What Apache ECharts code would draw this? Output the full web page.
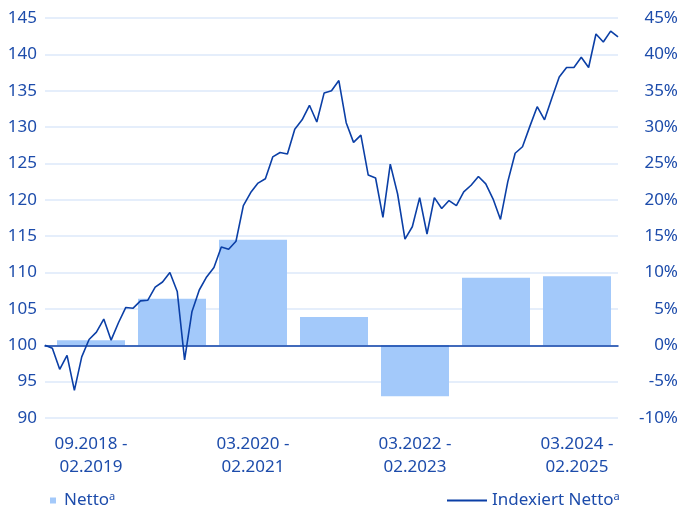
<!DOCTYPE html>
<html><head><meta charset="utf-8">
<script src="https://cdn.jsdelivr.net/npm/echarts@6/dist/echarts.min.js"></script>
<style>html,body{margin:0;padding:0;background:#fff}#c{width:681px;height:509px}</style>
</head><body><div id="c"></div>
<script>
const periods = ["09.2018 -\n02.2019","03.2019 -\n02.2020","03.2020 -\n02.2021","03.2021 -\n02.2022","03.2022 -\n02.2023","03.2023 -\n02.2024","03.2024 -\n02.2025"];
const nettoPct = [0.7, 6.4, 14.5, 3.9, -7.0, 9.3, 9.5];
const months = ["08.2018","09.2018","10.2018","11.2018","12.2018",
"01.2019","02.2019","03.2019","04.2019","05.2019","06.2019","07.2019","08.2019","09.2019","10.2019","11.2019","12.2019",
"01.2020","02.2020","03.2020","04.2020","05.2020","06.2020","07.2020","08.2020","09.2020","10.2020","11.2020","12.2020",
"01.2021","02.2021","03.2021","04.2021","05.2021","06.2021","07.2021","08.2021","09.2021","10.2021","11.2021","12.2021",
"01.2022","02.2022","03.2022","04.2022","05.2022","06.2022","07.2022","08.2022","09.2022","10.2022","11.2022","12.2022",
"01.2023","02.2023","03.2023","04.2023","05.2023","06.2023","07.2023","08.2023","09.2023","10.2023","11.2023","12.2023",
"01.2024","02.2024","03.2024","04.2024","05.2024","06.2024","07.2024","08.2024","09.2024","10.2024","11.2024","12.2024",
"01.2025","02.2025"];
const indexed = [100.0,99.6,96.7,98.6,93.8,98.4,100.8,101.8,103.6,100.7,103.1,105.2,105.1,106.1,106.2,108.0,108.7,110.0,107.4,98.0,
104.6,107.6,109.4,110.7,113.5,113.2,114.3,119.2,121.0,122.3,122.9,125.9,126.5,126.3,129.7,131.0,133.0,130.7,134.7,135.0,
136.4,130.6,127.9,128.9,123.4,123.0,117.6,124.9,120.8,114.6,116.3,120.3,115.3,120.3,118.8,119.9,119.2,121.1,122.0,123.2,
122.2,120.1,117.3,122.5,126.4,127.3,130.1,132.8,131.0,134.0,136.9,138.2,138.2,139.6,138.2,142.8,141.7,143.2,142.4];
const leftTicks = {min: 90, max: 145, interval: 5};
const rightTicks = {min: -10, max: 45, interval: 5};

const TXT = '#1d4cab', LINE = '#0b3fa6', BAR = '#a3c9fa', GRID = '#dde9fa';
const FONT = 'Noto Sans';
const chart = echarts.init(document.getElementById('c'), null, {renderer: 'canvas'});
chart.setOption({
  animation: false,
  textStyle: {fontFamily: FONT},
  grid: [
    {left: 45, right: 59, top: 18, bottom: 91},
    {left: 50.5, right: 63.5, top: 18, bottom: 91}
  ],
  legend: [
    {data: ['Netto\u1d43'], left: 45, top: 487, icon: 'rect', itemWidth: 6, itemHeight: 6,
     textStyle: {color: TXT, fontSize: 17, fontFamily: FONT, padding: [0, 0, 0, 3]}},
    {data: [{name: 'Indexiert Netto\u1d43', icon: 'rect'}], left: 442, top: 487, itemWidth: 40, itemHeight: 2,
     textStyle: {color: TXT, fontSize: 17, fontFamily: FONT}}
  ],
  xAxis: [
    {type: 'category', gridIndex: 0, data: months, boundaryGap: false,
     axisLine: {show: true, onZero: true, onZeroAxisIndex: 1, lineStyle: {color: LINE, width: 1.5}},
     axisTick: {show: false}, axisLabel: {show: false}, splitLine: {show: false}, z: 5},
    {type: 'category', gridIndex: 1, data: periods, boundaryGap: true,
     axisLine: {show: false}, axisTick: {show: false}, splitLine: {show: false},
     axisLabel: {interval: 1, color: TXT, fontSize: 17, lineHeight: 23, margin: 15, fontFamily: FONT}}
  ],
  yAxis: [
    {type: 'value', gridIndex: 0, position: 'left', ...leftTicks,
     axisLine: {show: false}, axisTick: {show: false},
     axisLabel: {color: TXT, fontSize: 17, margin: 8, fontFamily: FONT},
     splitLine: {show: true, lineStyle: {color: GRID, width: 1.5}}},
    {type: 'value', gridIndex: 0, position: 'right', ...rightTicks,
     axisLine: {show: false}, axisTick: {show: false},
     axisLabel: {color: TXT, fontSize: 17, margin: 60, align: 'right', fontFamily: FONT, formatter: '{value}%'},
     splitLine: {show: false}},
    {type: 'value', gridIndex: 1, ...rightTicks, show: false}
  ],
  series: [
    {name: 'Netto\u1d43', type: 'bar', xAxisIndex: 1, yAxisIndex: 2, data: nettoPct,
     barWidth: 68, itemStyle: {color: BAR}, z: 2},
    {name: 'Indexiert Netto\u1d43', type: 'line', xAxisIndex: 0, yAxisIndex: 0, data: indexed,
     symbol: 'none', showSymbol: false, lineStyle: {color: LINE, width: 1.6}, itemStyle: {color: LINE}, z: 6}
  ]
});
</script></body></html>
